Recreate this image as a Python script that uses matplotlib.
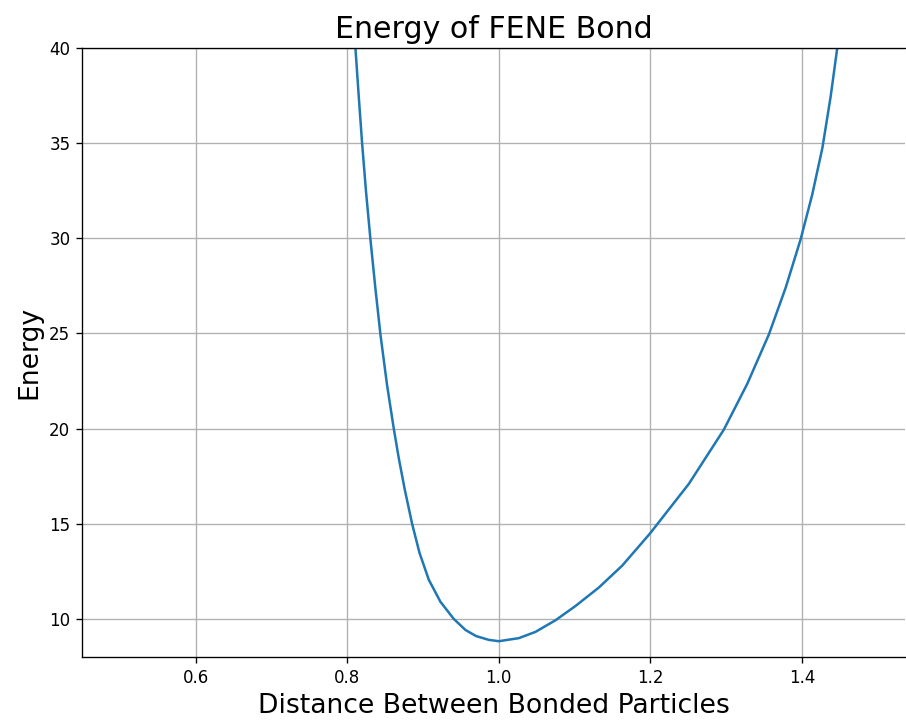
import matplotlib
matplotlib.use("Agg")
import matplotlib.pyplot as plt

# Bond length vs. energy samples for the FENE bond
distance = [0.806, 0.8108, 0.8152, 0.8196, 0.8248, 0.8306, 0.8372, 0.8438,
            0.8525, 0.8614, 0.8680, 0.8759, 0.8856, 0.8953, 0.9076, 0.9230,
            0.9406, 0.9560, 0.9700, 0.9868, 1.0000, 1.0264, 1.0484, 1.0748,
            1.1012, 1.1320, 1.1628, 1.1993, 1.2508, 1.2970, 1.3278, 1.3564,
            1.3785, 1.3983, 1.4136, 1.4270, 1.4379, 1.4466, 1.4510]
energy = [43.0, 40.0, 37.45, 35.0, 32.45, 29.95, 27.35, 24.95,
          22.3, 20.0, 18.45, 16.8, 15.0, 13.48, 12.06, 10.9,
          10.0, 9.42, 9.10, 8.90, 8.83, 8.99, 9.32, 9.93,
          10.68, 11.65, 12.8, 14.48, 17.1, 19.95, 22.35, 24.95,
          27.4, 29.95, 32.3, 34.75, 37.45, 40.0, 42.0]

x_ticks = [0.6, 0.8, 1.0, 1.2, 1.4]
y_ticks = [10, 15, 20, 25, 30, 35, 40]

fig = plt.figure(figsize=(7.55, 6.0), dpi=120)
ax = fig.add_axes([82 / 906, 1 - 657 / 720, 823 / 906, 609 / 720])

ax.plot(distance, energy, color="#1f77b4", linewidth=1.5)

ax.set_xlim(0.45, 1.536)
ax.set_ylim(8.0, 40.0)
ax.set_xticks(x_ticks)
ax.set_yticks(y_ticks)
ax.tick_params(labelsize=10, direction="out", length=3.5)
ax.grid(True, color="#b0b0b0", linewidth=0.8)
ax.set_axisbelow(True)
ax.spines["right"].set_visible(False)

ax.set_title("Energy of FENE Bond", fontsize=18)
ax.set_xlabel("Distance Between Bonded Particles", fontsize=16)
ax.set_ylabel("Energy", fontsize=16)

fig.savefig("out.png", dpi=120)
